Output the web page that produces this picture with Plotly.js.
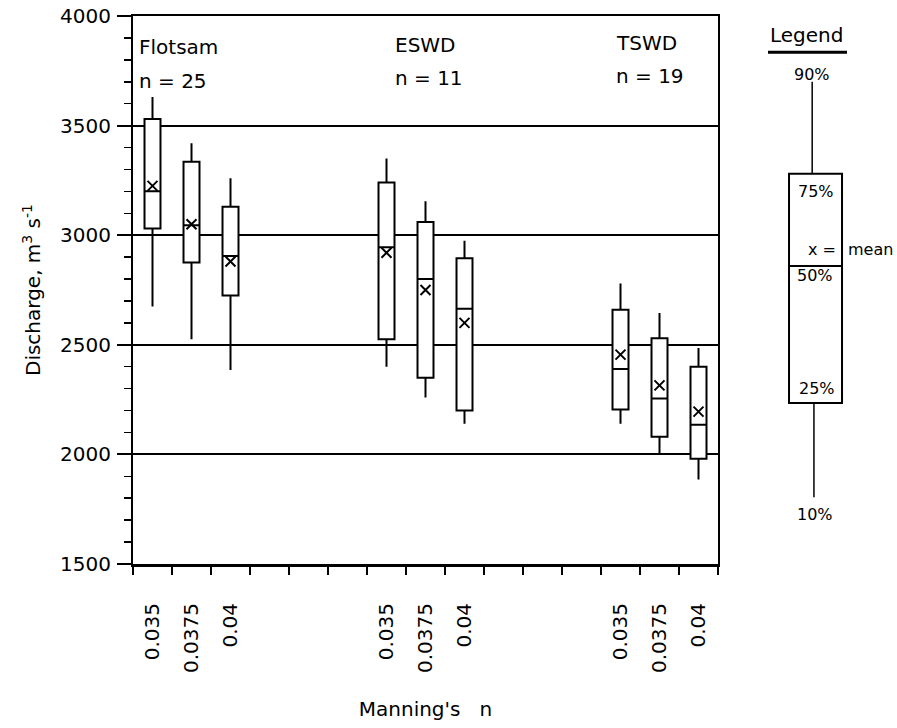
<!DOCTYPE html>
<html>
<head>
<meta charset="utf-8">
<script src="https://cdn.plot.ly/plotly-3.0.1.min.js"></script>
<style>html,body{margin:0;padding:0;background:#fff;}#chart{width:897px;height:728px;}</style>
</head>
<body>
<div id="chart"></div>
<script>
// ---- data ----
const groups = ['Flotsam', 'ESWD', 'TSWD'];
const groupCounts = ['n = 25', 'n = 11', 'n = 19'];
const manningN = ['0.035', '0.0375', '0.04'];
// order: Flotsam(0.035,0.0375,0.04), ESWD(...), TSWD(...)
const p90    = [3630, 3420, 3260, 3350, 3155, 2975, 2780, 2645, 2485];
const p75    = [3530, 3335, 3130, 3240, 3060, 2895, 2660, 2530, 2400];
const median = [3200, 3045, 2905, 2945, 2800, 2665, 2390, 2255, 2135];
const mean   = [3225, 3050, 2880, 2920, 2750, 2600, 2455, 2315, 2195];
const p25    = [3030, 2875, 2725, 2525, 2350, 2200, 2205, 2080, 1980];
const p10    = [2675, 2525, 2385, 2400, 2260, 2140, 2140, 2000, 1885];
const yTicks = [1500, 2000, 2500, 3000, 3500, 4000];

// ---- layout helpers ----
const pos = [], labels = [];
groups.forEach((g, gi) => manningN.forEach((n, ni) => { pos.push(gi * 6 + ni + 0.5); labels.push(n); }));
const FONT = 'DejaVu Sans, Arial, sans-serif';

const boxes = {
  type: 'box', x: pos, q1: p25, median: median, q3: p75,
  lowerfence: p10, upperfence: p90,
  width: 0.41, whiskerwidth: 0, boxpoints: false,
  fillcolor: 'white', line: {color: 'black', width: 2},
  hoverinfo: 'skip', showlegend: false
};
const means = {
  type: 'scatter', mode: 'markers', x: pos, y: mean, xaxis: 'x2', yaxis: 'y',
  marker: {symbol: 'x-thin', size: 10, color: 'black', line: {color: 'black', width: 2}},
  hoverinfo: 'skip', showlegend: false
};

const intTicks = []; for (let i = 0; i <= 15; i++) intTicks.push(i);

const ann = [];
const groupX = [0.1, 6.67, 12.33];
const groupY = [[0.943, 0.881], [0.947, 0.886], [0.951, 0.891]];
groups.forEach((g, i) => {
  ann.push({xref: 'x', yref: 'paper', x: groupX[i], y: groupY[i][0], text: g, showarrow: false, xanchor: 'left', yanchor: 'middle', font: {size: 20}});
  ann.push({xref: 'x', yref: 'paper', x: groupX[i], y: groupY[i][1], text: groupCounts[i], showarrow: false, xanchor: 'left', yanchor: 'middle', font: {size: 20}});
});
// legend key texts
const lk = (x, y, t, xa, sz) => ann.push({xref: 'paper', yref: 'paper', x: x, y: y, text: t, showarrow: false, xanchor: xa || 'center', yanchor: 'middle', font: {size: sz || 16}});
lk(1.152, 0.965, 'Legend', 'center', 20);
lk(1.161, 0.894, '90%');
lk(1.168, 0.679, '75%');
lk(1.205, 0.573, 'x =', 'right');
lk(1.219, 0.573, 'mean', 'left');
lk(1.166, 0.526, '50%');
lk(1.169, 0.321, '25%');
lk(1.166, 0.091, '10%');

const L = {color: 'black', width: 2};
const shapes = [
  {type: 'line', xref: 'paper', yref: 'paper', x0: 1.0855, x1: 1.2205, y0: 0.934, y1: 0.934, line: {color: 'black', width: 3}},
  {type: 'line', xref: 'paper', yref: 'paper', x0: 1.161, x1: 1.161, y0: 0.880, y1: 0.712, line: {color: 'black', width: 1.5}},
  {type: 'rect', xref: 'paper', yref: 'paper', x0: 1.1214, x1: 1.212, y0: 0.294, y1: 0.712, line: L, fillcolor: 'rgba(0,0,0,0)'},
  {type: 'line', xref: 'paper', yref: 'paper', x0: 1.1214, x1: 1.212, y0: 0.544, y1: 0.544, line: L},
  {type: 'line', xref: 'paper', yref: 'paper', x0: 1.164, x1: 1.164, y0: 0.294, y1: 0.122, line: {color: 'black', width: 1.5}}
];

const layout = {
  width: 897, height: 728,
  margin: {l: 133, r: 179, t: 16, b: 164},
  paper_bgcolor: 'white', plot_bgcolor: 'white',
  font: {family: FONT, size: 20, color: 'black'},
  showlegend: false,
  xaxis: {
    range: [0, 15], tickmode: 'array', tickvals: intTicks, showticklabels: false,
    ticks: 'outside', ticklen: 8, tickwidth: 1.5, tickcolor: 'black',
    showline: true, linecolor: 'black', linewidth: 2.5, mirror: true,
    showgrid: false, zeroline: false, fixedrange: true
  },
  xaxis2: {
    overlaying: 'x', side: 'bottom', range: [0, 15],
    tickmode: 'array', tickvals: pos, ticktext: labels, tickangle: -90,
    ticks: 'outside', ticklen: 30, tickcolor: 'rgba(0,0,0,0)',
    tickfont: {size: 20}, showline: false, showgrid: false, zeroline: false, fixedrange: true,
    title: {text: 'Manning\'s\u00A0\u00A0\u00A0n', standoff: 30, font: {size: 20}}
  },
  yaxis: {
    range: [1500, 4000], tickmode: 'array', tickvals: yTicks, ticktext: yTicks.map(String),
    ticks: 'outside', ticklen: 14, tickwidth: 2, tickcolor: 'black',
    tickfont: {size: 20}, ticklabelstandoff: 2,
    showline: true, linecolor: 'black', linewidth: 2, mirror: true,
    showgrid: true, gridcolor: 'black', gridwidth: 2, zeroline: false,
    minor: {tickmode: 'linear', tick0: 1500, dtick: 100, ticks: 'outside', ticklen: 7, tickwidth: 1.5, tickcolor: 'black', showgrid: false},
    title: {text: 'Discharge, m<sup>3</sup> s<sup>-1</sup>', standoff: 14, font: {size: 20}},
    fixedrange: true
  },
  annotations: ann,
  shapes: shapes
};

Plotly.newPlot('chart', [boxes, means], layout, {displayModeBar: false, staticPlot: true});
</script>
</body>
</html>
